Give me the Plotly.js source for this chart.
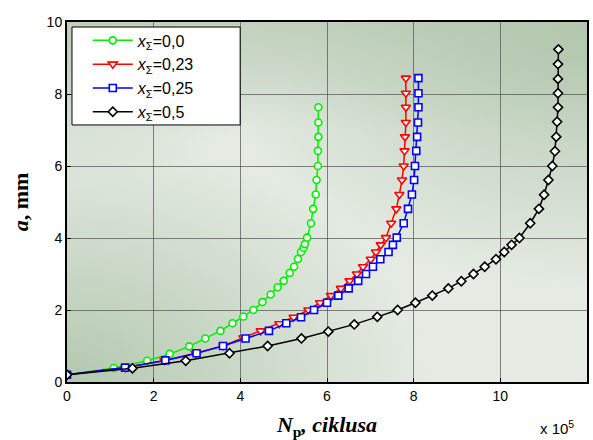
<!DOCTYPE html>
<html>
<head>
<meta charset="utf-8">
<script src="https://cdn.plot.ly/plotly-3.0.1.min.js"></script>
<style>
  html, body { margin: 0; padding: 0; background: #ffffff; }
  #chart { width: 593px; height: 440px; }
</style>
</head>
<body>
<div id="chart"></div>
<script>
// Values of N_p in units of 10^5 cycles, crack length a in mm
const seriesNames = ["<i>x</i><sub>Σ</sub>=0,0", "<i>x</i><sub>Σ</sub>=0,23", "<i>x</i><sub>Σ</sub>=0,25", "<i>x</i><sub>Σ</sub>=0,5"];

const xGreen = [0, 1.08, 1.85, 2.37, 2.82, 3.19, 3.54, 3.82, 4.07, 4.30, 4.51, 4.70, 4.86, 5.00, 5.14, 5.24, 5.33, 5.40, 5.46, 5.49, 5.54, 5.63, 5.68, 5.74, 5.76, 5.79, 5.79, 5.80, 5.80, 5.80];
const yGreen = [0.2, 0.39, 0.59, 0.78, 0.99, 1.21, 1.42, 1.63, 1.82, 2.00, 2.22, 2.43, 2.63, 2.81, 3.03, 3.20, 3.42, 3.61, 3.73, 3.83, 4.01, 4.41, 4.81, 5.21, 5.61, 6.00, 6.42, 6.81, 7.21, 7.63];

const xRed = [0, 1.35, 2.25, 2.97, 3.61, 4.07, 4.47, 4.90, 5.23, 5.57, 5.84, 6.09, 6.32, 6.52, 6.69, 6.83, 7.01, 7.13, 7.24, 7.36, 7.48, 7.60, 7.67, 7.73, 7.77, 7.79, 7.80, 7.82, 7.82, 7.82, 7.82];
const yRed = [0.2, 0.4, 0.6, 0.8, 1.01, 1.23, 1.42, 1.62, 1.80, 2.00, 2.20, 2.40, 2.60, 2.81, 3.00, 3.20, 3.41, 3.61, 3.81, 4.01, 4.41, 4.81, 5.21, 5.61, 6.00, 6.42, 6.81, 7.21, 7.63, 8.02, 8.44];

const xBlue = [0, 1.34, 2.27, 2.99, 3.60, 4.12, 4.66, 5.06, 5.40, 5.70, 6.00, 6.26, 6.50, 6.72, 6.90, 7.06, 7.23, 7.42, 7.52, 7.61, 7.77, 7.87, 7.96, 8.01, 8.03, 8.06, 8.08, 8.10, 8.11, 8.11, 8.11];
const yBlue = [0.2, 0.4, 0.6, 0.8, 1.00, 1.21, 1.42, 1.63, 1.80, 2.00, 2.20, 2.40, 2.60, 2.81, 3.00, 3.20, 3.41, 3.61, 3.81, 4.01, 4.41, 4.81, 5.21, 5.61, 6.00, 6.42, 6.81, 7.21, 7.63, 8.02, 8.44];

const xBlack = [0, 1.51, 2.74, 3.75, 4.63, 5.41, 6.03, 6.63, 7.16, 7.63, 8.04, 8.43, 8.80, 9.10, 9.38, 9.64, 9.90, 10.09, 10.26, 10.44, 10.69, 10.89, 11.01, 11.11, 11.20, 11.26, 11.29, 11.31, 11.33, 11.33, 11.33, 11.33, 11.34];
const yBlack = [0.2, 0.38, 0.59, 0.80, 1.00, 1.21, 1.40, 1.60, 1.81, 2.00, 2.20, 2.40, 2.60, 2.80, 3.00, 3.20, 3.41, 3.61, 3.81, 4.00, 4.41, 4.81, 5.20, 5.61, 6.00, 6.41, 6.81, 7.23, 7.63, 8.02, 8.42, 8.83, 9.24];

const xTicks = [0, 2, 4, 6, 8, 10, 12];
const yTicks = [0, 2, 4, 6, 8, 10];

function mk(x, y, name, color, symbol, size) {
  return {
    x: x, y: y, name: name, type: 'scatter', mode: 'lines+markers',
    line: { color: color, width: 1.5 },
    marker: { symbol: symbol, size: size, color: '#ffffff', line: { color: color, width: 1.6 } }
  };
}

const traces = [
  mk(xGreen, yGreen, seriesNames[0], '#00ee00', 'circle', 7),
  mk(xRed, yRed, seriesNames[1], '#ff0000', 'triangle-down', 8),
  mk(xBlue, yBlue, seriesNames[2], '#0000ff', 'square', 7),
  mk(xBlack, yBlack, seriesNames[3], '#000000', 'diamond', 7)
];

const svg = "<svg xmlns='http://www.w3.org/2000/svg' width='520' height='360' viewBox='0 0 520 360' preserveAspectRatio='none'>" +
  "<defs>" +
  "<radialGradient id='tr' cx='1' cy='0' r='0.75'><stop offset='0' stop-color='#b2c7ae' stop-opacity='1'/><stop offset='1' stop-color='#b2c7ae' stop-opacity='0'/></radialGradient>" +
  "<radialGradient id='bl' cx='0' cy='1' r='0.7'><stop offset='0' stop-color='#b3c8af' stop-opacity='1'/><stop offset='1' stop-color='#b3c8af' stop-opacity='0'/></radialGradient>" +
  "<radialGradient id='tl' cx='0' cy='0' r='0.45'><stop offset='0' stop-color='#bfcfbb' stop-opacity='1'/><stop offset='1' stop-color='#bfcfbb' stop-opacity='0'/></radialGradient>" +
  "<linearGradient id='top' x1='0' y1='0' x2='0' y2='1'><stop offset='0' stop-color='#bccdb8' stop-opacity='0.8'/><stop offset='0.3' stop-color='#bccdb8' stop-opacity='0'/></linearGradient>" +
  "</defs>" +
  "<rect x='0' y='0' width='520' height='360' fill='#e5ebe3'/>" +
  "<rect x='0' y='0' width='520' height='360' fill='url(#top)'/>" +
  "<rect x='0' y='0' width='520' height='360' fill='url(#tr)'/>" +
  "<rect x='0' y='0' width='520' height='360' fill='url(#bl)'/>" +
  "<rect x='0' y='0' width='520' height='360' fill='url(#tl)'/>" +
  "</svg>";

const layout = {
  width: 593, height: 440,
  margin: { l: 67, r: 6, t: 22, b: 58, pad: 0 },
  paper_bgcolor: '#ffffff',
  plot_bgcolor: '#e2e9df',
  font: { family: 'Liberation Sans, Arial, sans-serif', size: 14, color: '#000000' },
  showlegend: true,
  legend: {
    x: 0.04, y: 0.996, xanchor: 'left', yanchor: 'top',
    bgcolor: 'rgba(0,0,0,0)', borderwidth: 0,
    font: { family: 'Liberation Sans, Arial, sans-serif', size: 16, color: '#000000' },
    tracegroupgap: 0, itemwidth: 40
  },
  shapes: [{
    type: 'rect', xref: 'paper', yref: 'paper',
    x0: 0.0096, x1: 0.333, y0: 0.714, y1: 0.986,
    fillcolor: '#ffffff', line: { color: '#000000', width: 1 }, layer: 'above'
  }],
  xaxis: {
    range: [0, 12], tickvals: xTicks, ticktext: xTicks.map(String),
    showgrid: true, gridcolor: 'rgba(80,80,80,0.7)', gridwidth: 1,
    zeroline: false, showline: true, linecolor: '#000000', linewidth: 2, mirror: true,
    ticks: 'inside', ticklen: 4, tickcolor: '#000000',
    tickfont: { family: 'Liberation Sans, Arial, sans-serif', size: 14 },
    title: { text: '<b><i>N</i><sub>p</sub><i>, ciklusa</i></b>', font: { family: 'Liberation Serif, DejaVu Serif, serif', size: 22, color: '#000000' }, standoff: 19 }
  },
  yaxis: {
    range: [0, 10], tickvals: yTicks, ticktext: yTicks.map(String),
    showgrid: true, gridcolor: 'rgba(80,80,80,0.7)', gridwidth: 1,
    zeroline: false, showline: true, linecolor: '#000000', linewidth: 2, mirror: true,
    ticks: 'inside', ticklen: 4, tickcolor: '#000000',
    tickfont: { family: 'Liberation Sans, Arial, sans-serif', size: 14 },
    title: { text: '<b><i>a</i>, mm</b>', font: { family: 'Liberation Serif, DejaVu Serif, serif', size: 22, color: '#000000' }, standoff: 12 }
  },
  images: [{
    source: 'data:image/svg+xml;charset=utf-8,' + encodeURIComponent(svg),
    xref: 'paper', yref: 'paper', x: 0, y: 1, sizex: 1, sizey: 1,
    xanchor: 'left', yanchor: 'top', sizing: 'stretch', layer: 'below'
  }],
  annotations: [{
    text: 'x 10<sup>5</sup>', xref: 'paper', yref: 'paper', x: 0.942, y: -0.125,
    xanchor: 'center', yanchor: 'middle', showarrow: false,
    font: { family: 'Liberation Sans, Arial, sans-serif', size: 15, color: '#000000' }
  }]
};

Plotly.newPlot('chart', traces, layout, { displayModeBar: false, staticPlot: true });
</script>
</body>
</html>
